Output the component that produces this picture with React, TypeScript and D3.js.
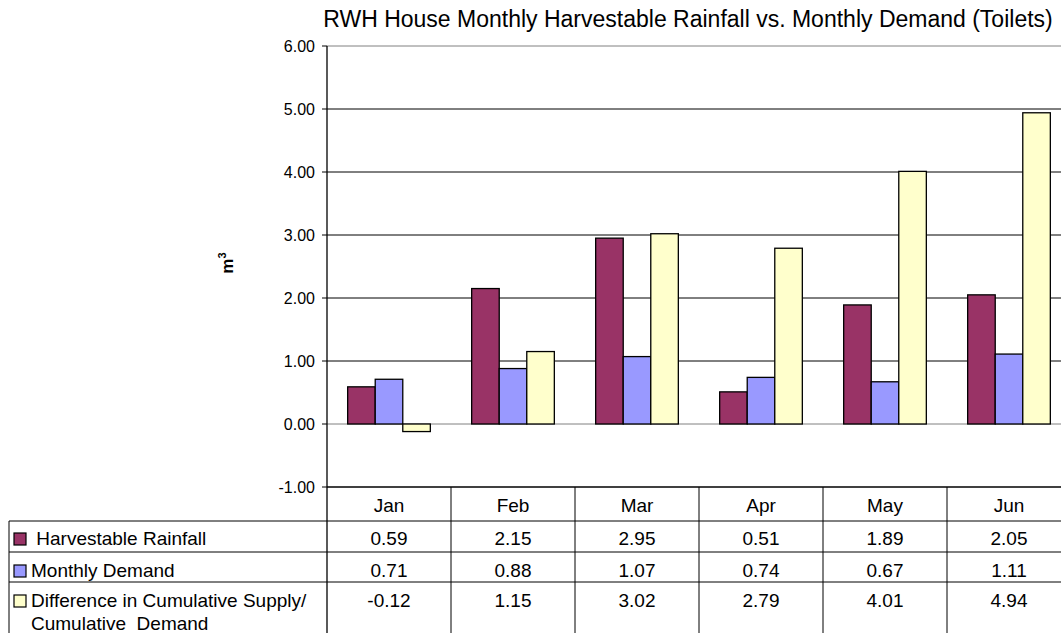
import React from "react";
import * as d3 from "d3";

const months = ["Jan", "Feb", "Mar", "Apr", "May", "Jun"];
const seriesNames = [
  " Harvestable Rainfall",
  "Monthly Demand",
  "Difference in Cumulative Supply/",
];
const seriesColors = ["#993366", "#9999ff", "#ffffcc"];
const rainfall = [0.59, 2.15, 2.95, 0.51, 1.89, 2.05];
const demand = [0.71, 0.88, 1.07, 0.74, 0.67, 1.11];
const difference = [-0.12, 1.15, 3.02, 2.79, 4.01, 4.94];
const yTicks = [-1, 0, 1, 2, 3, 4, 5, 6];

const title = "RWH House Monthly Harvestable Rainfall vs. Monthly Demand (Toilets)";

const W = 1061;
const H = 633;
const font = "'Liberation Sans', Arial, sans-serif";

// Excel shows a plain hyphen, not the unicode minus d3 uses
const fmt = (v: number) => d3.format(".2f")(v).replace("\u2212", "-");

export default function App() {
  const series = [rainfall, demand, difference];

  // plot area (right side runs past the window like the original)
  const left = 327;
  const step = 124;
  const x = d3
    .scaleBand<string>()
    .domain(months)
    .range([left, left + step * months.length]);
  const inner = d3
    .scaleBand<number>()
    .domain([0, 1, 2])
    .range([0, x.bandwidth()])
    .paddingOuter(0.75);
  const y = d3.scaleLinear().domain([-1, 6]).range([487, 46]);

  // data table rows
  const rowLines = [487, 521, 552, 582];
  const rowBase = [545, 577, 607];
  const right = left + step * months.length;
  const fs = 19;

  return (
    <svg
      width={W}
      height={H}
      style={{ position: "absolute", left: 0, top: 0, background: "#fff" }}
      fontFamily={font}
    >
      <text x={688} y={27} fontSize={23} textAnchor="middle" fill="#000">
        {title}
      </text>

      {/* gridlines */}
      {yTicks.map((t) => (
        <g key={t}>
          <line
            x1={left}
            x2={right}
            y1={y(t)}
            y2={y(t)}
            stroke={t === 0 || t === 6 ? "#808080" : "#000"}
            strokeWidth={t === -1 ? 1.5 : 1}
          />
          <line x1={left - 5} x2={left} y1={y(t)} y2={y(t)} stroke="#000" />
          <text
            x={315}
            y={y(t)}
            dy="0.36em"
            fontSize={16}
            textAnchor="end"
            fill="#000"
          >
            {fmt(t)}
          </text>
        </g>
      ))}

      {/* bars */}
      {months.map((m, i) => (
        <g key={m}>
          {series.map((s, k) => {
            const v = s[i];
            const y0 = y(Math.max(0, v));
            const y1 = y(Math.min(0, v));
            return (
              <rect
                key={k}
                x={(x(m) ?? 0) + (inner(k) ?? 0)}
                y={y0}
                width={inner.bandwidth()}
                height={y1 - y0}
                fill={seriesColors[k]}
                stroke="#000"
                strokeWidth={1.3}
              />
            );
          })}
        </g>
      ))}

      {/* y axis */}
      <line x1={left} x2={left} y1={y(6)} y2={H} stroke="#000" strokeWidth={1.3} />
      <text
        transform="translate(233,263) rotate(-90)"
        fontSize={17}
        fontWeight="bold"
        textAnchor="middle"
        fill="#000"
      >
        m<tspan dy={-7} fontSize={11}>3</tspan>
      </text>

      {/* data table */}
      {rowLines.slice(1).map((ly) => (
        <line key={ly} x1={9} x2={right} y1={ly} y2={ly} stroke="#000" />
      ))}
      <line x1={9} x2={9} y1={521} y2={H} stroke="#000" />
      {months.slice(1).map((m) => (
        <line key={m} x1={x(m)} x2={x(m)} y1={487} y2={H} stroke="#000" />
      ))}
      {months.map((m) => (
        <text
          key={m}
          x={(x(m) ?? 0) + x.bandwidth() / 2}
          y={512}
          fontSize={fs}
          textAnchor="middle"
          fill="#000"
        >
          {m}
        </text>
      ))}
      {series.map((s, k) => (
        <g key={k}>
          <rect
            x={14}
            y={rowBase[k] - 12}
            width={12}
            height={12}
            fill={seriesColors[k]}
            stroke="#000"
            strokeWidth={1.2}
          />
          <text
            x={31}
            y={rowBase[k]}
            fontSize={fs}
            fill="#000"
            style={{ whiteSpace: "pre" }}
          >
            {seriesNames[k]}
          </text>
          {s.map((v, i) => (
            <text
              key={i}
              x={(x(months[i]) ?? 0) + x.bandwidth() / 2}
              y={rowBase[k]}
              fontSize={fs}
              textAnchor="middle"
              fill="#000"
            >
              {fmt(v)}
            </text>
          ))}
        </g>
      ))}
      <text x={31} y={630} fontSize={fs} fill="#000" style={{ whiteSpace: "pre" }}>
        {"Cumulative  Demand"}
      </text>
    </svg>
  );
}
